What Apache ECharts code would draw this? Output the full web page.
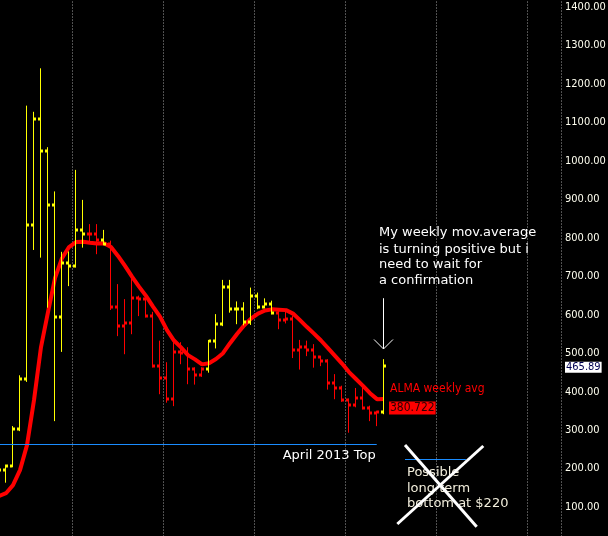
<!DOCTYPE html>
<html><head><meta charset="utf-8">
<script src="https://cdn.jsdelivr.net/npm/echarts@6/dist/echarts.min.js"></script>
<style>html,body{margin:0;padding:0;background:#000;}#c{width:608px;height:536px;}</style>
</head><body><div id="c"></div>
<script>
// Weekly OHLC bars (index 0 is partly off the left edge)
const opens  = [190,196,207,302,432,833,1108,1026,884,595,734,728,819,809,809,794,785,621,571,578,644,640,597,467,435,380,504,500,458,443,458,532,576,673,614,614,580,650,621,629,605,586,590,508,515,508,490,480,423,410,378,365,383,358,344,348];
const highs  = [200,208,308,440,1141,1125,1238,1033,918,761,762,974,896,833,833,818,790,677,638,695,647,642,605,530,474,534,526,513,461,461,532,599,688,688,632,630,668,655,640,634,610,610,595,532,530,521,491,482,443,413,380,407,407,361,348,482];
const lows   = [180,166,206,300,428,771,751,621,326,506,677,725,777,790,760,783,615,547,500,552,599,595,465,396,374,365,474,422,421,441,452,515,573,608,578,575,576,617,619,603,565,580,490,460,495,465,469,408,383,376,296,362,356,326,313,344];
const closes = [196,207,302,432,833,1108,1026,884,595,734,728,819,809,809,794,785,621,571,578,644,640,597,467,435,380,504,500,458,443,458,532,576,673,614,614,580,650,621,629,605,586,590,508,515,508,490,480,423,410,378,365,383,358,344,348,465.89];
// ALMA weekly moving average
const alma   = [128.6,136,157,196,261,378,516,607,695,747,776,789,790,787,785.5,786,776,753,727,699,673,649,621,595,560,533,515,495,484,471,474,485,500,526,550,572,590,603,611,614,613,612,603,586,568,551,533,513,493,473,451,433,415,396,380.6,380.722];
// Price axis tick labels
const priceTicks = [100,200,300,400,500,600,700,800,900,1000,1100,1200,1300,1400];
// Annotation levels
const aprilTop = 264;
const possibleBottom = 224;
const lastPrice = 465.89;
const almaLast = 380.722;
const annotationLines = ['My weekly mov.average','is turning positive but i','need to wait for','a confirmation'];
const bottomLines = ['Possible','long term','bottom at $220'];

const barOffset = 2.5; // x value of bar i is i + barOffset (quarter gridlines every 13 weeks)
const n = closes.length;
const ohlc = closes.map((c, i) => [i + barOffset, opens[i], highs[i], lows[i], c, i === 0 || alma[i] > alma[i-1] ? 1 : 0]);
const maData = alma.map((v, i) => [i + barOffset, v]);

const chart = echarts.init(document.getElementById('c'), null, {renderer: 'canvas'});
const lblFont = "'DejaVu Sans Condensed','Liberation Sans',sans-serif";
const txtFont = "'DejaVu Sans',sans-serif";

chart.setOption({
  backgroundColor: '#000000',
  animation: false,
  grid: {left: -18.5, right: 47, top: -31.46, bottom: -9.54, containLabel: false, outerBoundsMode: 'none'},
  xAxis: {
    type: 'value', min: 0, max: 579.5/7, interval: 13,
    axisLine: {show: false}, axisTick: {show: false}, axisLabel: {show: false},
    splitLine: {show: true, lineStyle: {color: '#a0a0a0', width: 1, type: [1, 2]}}
  },
  yAxis: {
    type: 'value', position: 'right', min: 0, max: 1500, interval: 100,
    splitLine: {show: false},
    axisLine: {show: true, lineStyle: {color: '#ffffff', width: 1}},
    axisTick: {show: true, length: 3, lineStyle: {color: '#ffffff'}},
    axisLabel: {color: '#fffff0', fontSize: 11, fontFamily: lblFont, margin: 4,
      formatter: v => priceTicks.includes(v) ? v.toFixed(2) : ''}
  },
  series: [
    {
      type: 'line', data: maData, showSymbol: false, symbol: 'none', z: 2,
      lineStyle: {color: '#ff0000', width: 4}, silent: true
    },
    {
      type: 'custom', data: ohlc, z: 3, silent: true,
      encode: {x: 0, y: [1, 2, 3, 4]},
      renderItem: function (params, api) {
        const u = api.value(0);
        const o = api.coord([u, api.value(1)]);
        const h = api.coord([u, api.value(2)]);
        const l = api.coord([u, api.value(3)]);
        const c = api.coord([u, api.value(4)]);
        const color = api.value(5) > 0 ? '#ffff00' : '#ff0000';
        const x = Math.floor(o[0]);
        return {type: 'group', children: [
          {type: 'line', shape: {x1: x + 0.5, y1: Math.min(h[1], o[1], c[1]) - 1, x2: x + 0.5, y2: Math.max(l[1], o[1], c[1]) + 1}, style: {stroke: color, lineWidth: 1}},
          {type: 'rect', shape: {x: x - 2, y: Math.round(o[1]) - 1.5, width: 2, height: 3}, style: {fill: color}},
          {type: 'rect', shape: {x: x + 1, y: Math.round(c[1]) - 1.5, width: 2, height: 3}, style: {fill: color}}
        ]};
      }
    }
  ]
});

const P = (u, v) => chart.convertToPixel({gridIndex: 0}, [u, v]);
const lastU = (n - 1) + barOffset;
const g = [];

// Blue horizontal levels
const t1 = P(0, aprilTop), t2 = P(56.46, aprilTop);
const ty = Math.round(t1[1]) + 0.5;
g.push({type: 'line', shape: {x1: t1[0], y1: ty, x2: t2[0], y2: ty}, style: {stroke: '#1a8cff', lineWidth: 1}, z: 10});
const b1 = P(60.5, possibleBottom), b2 = P(69.2, possibleBottom);
const by = Math.round(b1[1]) + 0.5;
g.push({type: 'line', shape: {x1: b1[0], y1: by, x2: b2[0], y2: by}, style: {stroke: '#1a8cff', lineWidth: 1}, z: 10});

// Top annotation text
const annY = [232.7, 249.3, 265, 280.2];
annotationLines.forEach((s, k) => g.push({type: 'text', x: 379, y: annY[k], z: 10,
  style: {text: s, fill: '#ffffff', fontSize: 13, fontFamily: txtFont, verticalAlign: 'middle', align: 'left'}}));

// Down arrow pointing at the last bar
const aTop = P(lastU, 643), aTip = P(lastU, 511);
const ax = Math.floor(aTop[0]) + 0.5;
g.push({type: 'line', shape: {x1: ax, y1: aTop[1], x2: ax, y2: aTip[1]}, style: {stroke: '#ffffff', lineWidth: 1}, z: 10});
g.push({type: 'polyline', shape: {points: [[ax - 9.5, aTip[1] - 9.5], [ax, aTip[1]], [ax + 9.5, aTip[1] - 9.5]]}, style: {stroke: '#ffffff', lineWidth: 1, fill: null}, z: 10});

// ALMA label + value box
const mEnd = P(lastU, almaLast);
g.push({type: 'text', x: mEnd[0] + 6, y: mEnd[1] - 10, z: 10,
  style: {text: 'ALMA weekly avg', fill: '#ff0000', fontSize: 12, fontFamily: lblFont, verticalAlign: 'middle', align: 'left'}});
g.push({type: 'text', x: mEnd[0] + 5, y: mEnd[1] + 9, z: 10,
  style: {text: almaLast.toFixed(3), fill: '#2a0000', fontSize: 12, fontFamily: lblFont, verticalAlign: 'middle', align: 'left',
    backgroundColor: '#ff0000', padding: [1, 1, 0, 1]}});

// Last price box on axis
const lp = P(lastU, lastPrice);
g.push({type: 'text', x: 565, y: lp[1] + 1, z: 10,
  style: {text: lastPrice.toFixed(2), fill: '#000050', fontSize: 11, fontFamily: lblFont, verticalAlign: 'middle', align: 'left',
    backgroundColor: '#ffffff', padding: [0, 1, 0, 1]}});

// April 2013 Top label
g.push({type: 'text', x: 282.7, y: 456, z: 10,
  style: {text: 'April 2013 Top', fill: '#ffffff', fontSize: 13, fontFamily: txtFont, verticalAlign: 'middle', align: 'left'}});

// Possible bottom text
const botY = [472.7, 488.3, 504];
bottomLines.forEach((s, k) => g.push({type: 'text', x: 407, y: botY[k], z: 10,
  style: {text: s, fill: '#f2eedc', fontSize: 13, fontFamily: txtFont, verticalAlign: 'middle', align: 'left'}}));

// White X crossing it out
g.push({type: 'line', shape: {x1: 405, y1: 445, x2: 476.7, y2: 526.7}, style: {stroke: '#ffffff', lineWidth: 3}, z: 11});
g.push({type: 'line', shape: {x1: 483.3, y1: 446, x2: 397.3, y2: 524}, style: {stroke: '#ffffff', lineWidth: 3}, z: 11});

chart.setOption({graphic: g});
</script></body></html>
